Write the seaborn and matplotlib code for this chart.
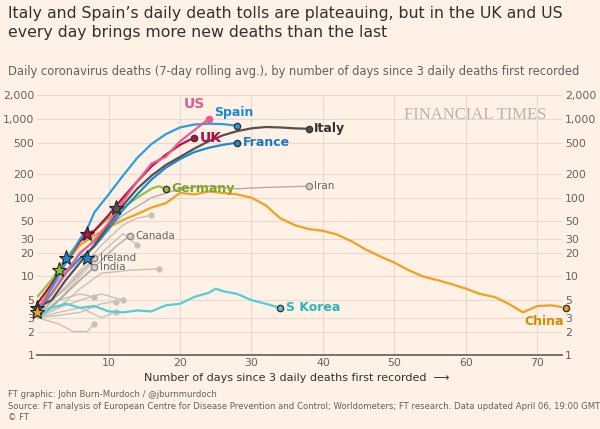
import matplotlib
matplotlib.use("Agg")
import matplotlib.pyplot as plt
import seaborn as sns
import pandas as pd

sns.set_theme(style="white")
plt.rcParams['font.family'] = ['DejaVu Sans']
BG = "#FFF1E5"

italy_d = [0,2,4,6,8,10,12,14,16,18,20,22,24,26,28,30,32,34,36,38]
italy_v = [4,5,9,15,25,45,80,130,190,260,330,420,520,620,700,760,790,780,760,750]
spain_d = [0,2,4,6,7,8,10,12,14,16,18,20,22,24,26,28]
spain_v = [3.5,7,15,30,40,65,110,190,320,480,640,780,850,870,860,820]
us_d = [0,2,4,6,8,10,12,14,16,18,20,22,24]
us_v = [4,6,11,20,28,48,90,160,270,330,520,720,1000]
uk_d = [0,2,4,6,7,8,10,12,14,16,18,20,22]
uk_v = [4.5,8,15,28,35,38,60,100,160,250,350,470,580]
france_d = [0,2,4,6,8,10,12,14,16,18,20,22,24,26,28]
france_v = [3.5,6,11,17,24,40,70,110,170,240,310,380,430,470,500]
germany_d = [0,2,4,6,8,10,12,14,16,17,18]
germany_v = [5.5,9,17,28,38,55,75,100,130,140,130]
china_d = [0,2,4,6,8,10,12,14,16,18,20,22,24,26,28,30,32,34,36,38,40,42,44,46,48,50,52,54,56,58,60,62,64,66,68,70,72,74]
china_v = [3.5,8,15,25,33,42,52,62,75,85,115,110,120,115,110,100,80,55,45,40,38,34,28,22,18,15,12,10,9,8,7,6,5.5,4.5,3.5,4.2,4.3,4]
korea_d = [0,2,4,6,8,10,12,14,16,18,20,22,24,25,26,28,30,32,34]
korea_v = [3,4,4.5,4,4.2,3.6,3.5,3.7,3.6,4.3,4.5,5.5,6.2,7,6.5,6,5,4.5,4]
iran_d = [0,4,8,12,16,20,24,28,32,38]
iran_v = [4,12,30,60,100,130,140,130,135,140]
canada_d = [0,3,6,9,11,13]
canada_v = [3,5,9,16,24,33]
ireland_d = [0,2,4,6,8]
ireland_v = [3,5,7,11,17]
india_d = [0,2,4,6,8]
india_v = [3,4,6,9,13]
grey_sets = [
    ([0,3,6,9,12,14,16], [3,6,12,25,45,55,60]),
    ([0,3,6,9,12,14], [3,5,10,20,35,25]),
    ([0,3,6,9,13,17], [3,4,7,11,12,12.5]),
    ([0,3,6,9,12], [3,4,5,6,5]),
    ([0,3,6,9,11], [3,3.5,4,3,3.5]),
    ([0,3,5,7,8], [3,2.5,2,2,2.5]),
    ([0,3,6,8], [3,5,6,5.5]),
    ([0,3,6,9,11], [3,3.2,3.5,4.5,4.8]),
]
stars = [(11,75,"#555555"),(7,35,"#b80d48"),(7,17,"#1a8ad4"),(4,17,"#1a8ad4"),(3,12,"#96c03d"),(0,4,"#555555"),(0,3.5,"#f2a01f")]

fig = plt.figure(figsize=(6,4.29), dpi=100, facecolor=BG)
ax = fig.add_axes([0.062, 0.172, 0.875, 0.606], facecolor=BG)
ax.set_yscale("log")
ax.set_ylim(1, 2000)
ax.set_xlim(0, 73.5)

def line(d, v, c, lw=1.6, z=3):
    sns.lineplot(x=d, y=v, ax=ax, color=c, lw=lw, zorder=z)

for d, v in grey_sets:
    line(d, v, "#c8c0ba", 1.0, 2)
    ax.plot(d[-1], v[-1], 'o', color="#c8c0ba", ms=3.5, zorder=2)
for d, v, lab in [(iran_d,iran_v,"Iran"),(canada_d,canada_v,"Canada"),(ireland_d,ireland_v,"Ireland"),(india_d,india_v,"India")]:
    line(d, v, "#b5aca6", 1.0, 2)
    ax.plot(d[-1], v[-1], 'o', mfc="#d8d0ca", mec="#888", ms=4.5, zorder=4)
    ax.text(d[-1]+0.8, v[-1], lab, fontsize=7.5, color="#666", va="center")

main = [
    (china_d, china_v, "#f2a01f", "China", "#d88a00"),
    (korea_d, korea_v, "#4fd0d8", "S Korea", "#2bb5be"),
    (germany_d, germany_v, "#96c03d", "Germany", "#7ba52a"),
    (france_d, france_v, "#1a8ad4", "France", "#1a78c0"),
    (italy_d, italy_v, "#555050", "Italy", "#333"),
    (uk_d, uk_v, "#b80d48", "UK", "#b80d48"),
    (spain_d, spain_v, "#2a9fe0", "Spain", "#1a8ad4"),
    (us_d, us_v, "#e95d8c", "US", "#e95d8c"),
]
for d, v, c, lab, tc in main:
    line(d, v, c)
    ax.plot(d[-1], v[-1], 'o', color=c, mec="#333" if lab != "US" else c, ms=4.5, zorder=5, clip_on=False)
    if lab == "US":
        ax.text(d[-1]-0.5, v[-1]*1.25, lab, color=tc, fontsize=10, fontweight="bold", ha="right", va="bottom")
    elif lab == "Spain":
        ax.text(d[-1]-0.5, v[-1]*1.2, lab, color=tc, fontsize=9, fontweight="bold", ha="center", va="bottom")
    elif lab == "China":
        ax.text(d[-1]-3, v[-1]*0.82, lab, color=tc, fontsize=9, fontweight="bold", ha="center", va="top")
    elif lab == "UK":
        ax.text(d[-1]+0.8, v[-1], lab, color=tc, fontsize=10, fontweight="bold", va="center")
    else:
        ax.text(d[-1]+0.8, v[-1], lab, color=tc, fontsize=9, fontweight="bold", va="center")
for x, y, c in stars:
    ax.plot(x, y, marker="*", ms=11, color=c, mec="#222", mew=0.8, zorder=6, clip_on=False)

yt = [1,2,3,5,10,20,30,50,100,200,500,1000,2000]
ytl = ["1","2","3","5","10","20","30","50","100","200","500","1,000","2,000"]
ax.set_yticks(yt); ax.set_yticklabels(ytl)
ax.minorticks_off()
ax.set_xticks([10,20,30,40,50,60,70])
ax.tick_params(axis="both", labelsize=7.8, colors="#66605c", length=0, labelright=True, right=False, pad=2)
ax.grid(True, color="#e6d9ce", lw=0.8)
for s in ["top","right","left"]:
    ax.spines[s].set_visible(False)
ax.spines["bottom"].set_color("#66605c")
ax.text(0.97, 0.955, "FINANCIAL TIMES", transform=ax.transAxes, ha="right", va="top",
        fontsize=12, color="#bbb3ab", family="Liberation Serif")

fig.text(0.013, 0.985, "Italy and Spain’s daily death tolls are plateauing, but in the UK and US\nevery day brings more new deaths than the last",
         fontsize=11.3, color="#33302e", va="top", linespacing=1.3)
fig.text(0.013, 0.848, "Daily coronavirus deaths (7-day rolling avg.), by number of days since 3 daily deaths first recorded",
         fontsize=8.3, color="#66605c", va="top")
fig.text(0.24, 0.12, "Number of days since 3 daily deaths first recorded  ⟶", fontsize=8, color="#33302e", va="center")
fig.text(0.013, 0.09, "FT graphic: John Burn-Murdoch / @jburnmurdoch\nSource: FT analysis of European Centre for Disease Prevention and Control; Worldometers; FT research. Data updated April 06, 19:00 GMT\n© FT",
         fontsize=6.1, color="#66605c", va="top", linespacing=1.35)
fig.savefig("out.png", dpi=100, facecolor=BG)
